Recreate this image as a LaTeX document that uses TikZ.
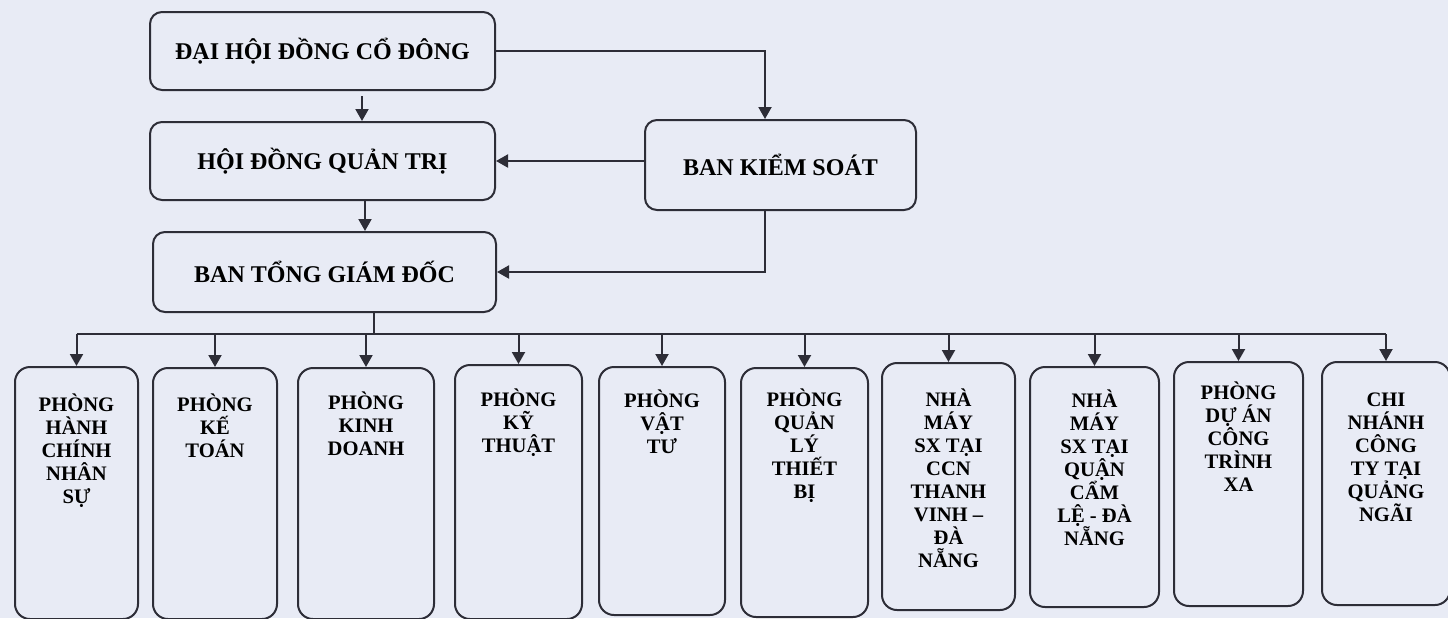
\documentclass[tikz,border=0pt]{standalone}
\usepackage{fontspec}
\setmainfont{Liberation Serif}
\usetikzlibrary{arrows.meta,calc}
\definecolor{bg}{RGB}{232,235,245}
\definecolor{ln}{RGB}{45,45,55}
\begin{document}
\begin{tikzpicture}[x=0.5pt,y=-0.5pt,
  topbox/.style={draw=ln, line width=1pt, rounded corners=6pt, fill=bg, inner sep=0pt,
    font=\bfseries\fontsize{12}{14}\selectfont},
  botbox/.style={draw=ln, line width=1pt, rounded corners=7.5pt, fill=bg, inner sep=0pt},
  btext/.style={font=\bfseries\fontsize{10.3}{11.5}\selectfont, align=center, anchor=north, inner sep=0pt},
  arr/.style={draw=ln, line width=1pt, -{Triangle[length=6pt,width=6.5pt]}},
  con/.style={draw=ln, line width=1pt}]
\useasboundingbox[fill=bg] (0,0) rectangle (1448,618);

% top boxes
\node[topbox, minimum width=172.5pt, minimum height=39pt] (dh) at (322.5,51) {ĐẠI HỘI ĐỒNG CỔ ĐÔNG};
\node[topbox, minimum width=172.5pt, minimum height=39pt] (hd) at (322.5,161) {HỘI ĐỒNG QUẢN TRỊ};
\node[topbox, minimum width=171.5pt, minimum height=40pt] (bt) at (324.5,272) {BAN TỔNG GIÁM ĐỐC};
\node[topbox, minimum width=135.5pt, minimum height=45pt] (bks) at (780.5,165) {BAN KIỂM SOÁT};

% top connectors
\draw[arr] ($(dh.south)+(39.5,5)$) -- ($(hd.north)+(39.5,0)$);
\draw[arr] ($(hd.south)+(42.5,0)$) -- ($(bt.north)+(40.5,0)$);
\draw[arr] (dh.east) -| ($(bks.north)+(-15.5,0)$);
\draw[arr] (bks.west |- hd.east) -- (hd.east);
\draw[arr] ($(bks.south)+(-15.5,0)$) |- (bt.east);

% bottom boxes
\node[botbox, minimum width=61.5pt, minimum height=126pt] (b1) at (76.5,493) {};
\node[botbox, minimum width=62pt, minimum height=125.5pt] (b2) at (215,493.5) {};
\node[botbox, minimum width=68pt, minimum height=125.5pt] (b3) at (366,493.5) {};
\node[botbox, minimum width=63.5pt, minimum height=127pt] (b4) at (518.5,492) {};
\node[botbox, minimum width=63pt, minimum height=124pt] (b5) at (662,491) {};
\node[botbox, minimum width=63.5pt, minimum height=124.5pt] (b6) at (804.5,492.5) {};
\node[botbox, minimum width=66.5pt, minimum height=123.5pt] (b7) at (948.5,486.5) {};
\node[botbox, minimum width=64.5pt, minimum height=120pt] (b8) at (1094.5,487) {};
\node[botbox, minimum width=64.5pt, minimum height=122pt] (b9) at (1238.5,484) {};
\node[botbox, minimum width=64pt, minimum height=121.5pt] (b10) at (1386,483.5) {};

% texts
\node[btext] (t1) at ($(b1.north)+(0,27)$) {PHÒNG\\HÀNH\\CHÍNH\\NHÂN\\SỰ};
\node[btext] (t2) at ($(b2.north)+(0,26)$) {PHÒNG\\KẾ\\TOÁN};
\node[btext] (t3) at ($(b3.north)+(0,24)$) {PHÒNG\\KINH\\DOANH};
\node[btext] (t4) at ($(b4.north)+(0,24)$) {PHÒNG\\KỸ\\THUẬT};
\node[btext] (t5) at ($(b5.north)+(0,23)$) {PHÒNG\\VẬT\\TƯ};
\node[btext] (t6) at ($(b6.north)+(0,21)$) {PHÒNG\\QUẢN\\LÝ\\THIẾT\\BỊ};
\node[btext] (t7) at ($(b7.north)+(0,26)$) {NHÀ\\MÁY\\SX TẠI\\CCN\\THANH\\VINH –\\ĐÀ\\NẴNG};
\node[btext] (t8) at ($(b8.north)+(0,23)$) {NHÀ\\MÁY\\SX TẠI\\QUẬN\\CẨM\\LỆ - ĐÀ\\NẴNG};
\node[btext] (t9) at ($(b9.north)+(0,20)$) {PHÒNG\\DỰ ÁN\\CÔNG\\TRÌNH\\XA};
\node[btext] (t10) at ($(b10.north)+(0,31)$) {CHI\\NHÁNH\\CÔNG\\TY TẠI\\QUẢNG\\NGÃI};

% bus
\coordinate (bus) at (374,334);
\draw[con] (bt.south -| bus) -- (bus);
\draw[con] (b1.north |- bus) -- (b10.north |- bus);
\foreach \i in {1,...,10} {
  \draw[arr] (b\i.north |- bus) -- (b\i.north);
}
\end{tikzpicture}
\end{document}
